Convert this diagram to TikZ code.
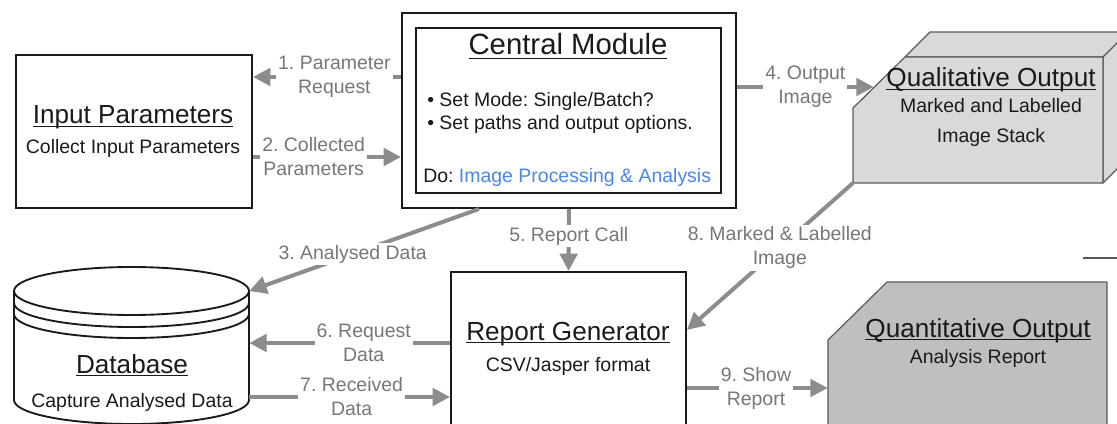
\documentclass[tikz,border=0pt]{standalone}
\usepackage{fontspec}
\setmainfont{Liberation Sans}
\usetikzlibrary{arrows.meta,fit,calc}
\definecolor{arr}{HTML}{8C8C8C}
\definecolor{lbl}{HTML}{777777}
\definecolor{blu}{HTML}{4A86E8}
\definecolor{txt}{HTML}{1A1A1A}
\definecolor{qlf}{HTML}{D9D9D9}
\definecolor{qtf}{HTML}{BFBFBF}
\definecolor{edg}{HTML}{595959}
\newcommand\ulin[2][2.4pt]{\setbox0\hbox{#2}\rlap{\rule[-#1]{\wd0}{1.1pt}}\box0}
\frenchspacing
\begin{document}
\begin{tikzpicture}[x=0.75pt,y=-0.75pt,
  box/.style={draw=txt, line width=1.5pt, inner sep=0pt},
  region/.style={inner sep=0pt},
  title/.style={anchor=base, inner sep=0pt, text=txt, font=\fontsize{19.6}{23}\selectfont},
  sub/.style={anchor=base, inner sep=0pt, text=txt, font=\fontsize{14.6}{17}\selectfont},
  conn/.style={draw=arr, line width=3pt, -{Triangle[length=13pt,width=13pt]}},
  lab/.style={fill=white, text=lbl, font=\fontsize{14.6}{18}\selectfont, align=center, inner sep=1.5pt},
  solid3d/.style={draw=edg, line width=0.9pt, line join=round}]
\useasboundingbox (0,0) rectangle (1117,424);
\clip (0,0) rectangle (1117,424);

% Input Parameters
\node[box, fit={(16,55) (252,208)}] (inp) {};
\node[title] (inpt) at (133,124) {\ulin{Input Parameters}};
\node[sub] (inps) at (133,154) {Collect Input Parameters};

% Central Module
\node[box, fit={(402,13) (736,208)}] (cm) {};
\node[box, fit={(416,28) (721,193)}] (cmi) {};
\node[title, font=\fontsize{22}{26}\selectfont] (cmt) at (568,55) {\ulin[3pt]{Central Module}};
\node[sub, anchor=base west] (b1) at (427,107) {\textbullet\ Set Mode: Single/Batch?};
\node[sub, anchor=base west] (b2) at (427,130) {\textbullet\ Set paths and output options.};
\node[sub, anchor=base west] (do) at (423,183) {Do: \textcolor{blu}{Image Processing \& Analysis}};

% Qualitative Output (3D box)
\draw[solid3d, fill=qlf] (905,57) -- (930,32) -- (1130,32) -- (1103,57) -- cycle;
\draw[solid3d, fill=qlf] (1103,57) -- (1130,30) -- (1130,156) -- (1103,183) -- cycle;
\draw[solid3d, fill=qlf] (853,108) -- (905,57) -- (1103,57) -- (1103,183) -- (853,183) -- cycle;
\node[region, fit={(853,57) (1103,183)}] (ql) {};
\node[title] (qlt) at (991,87) {\ulin{Qualitative Output}};
\node[sub] (qls1) at (991,113) {Marked and Labelled};
\node[sub] (qls2) at (991,143) {Image Stack};

% stray line at right
\draw[edg, line width=1.1pt] (1083,258) -- (1117,258);

% Quantitative Output
\draw[solid3d, fill=qtf] (828,340) -- (887,282) -- (1107,282) -- (1107,440) -- (828,440) -- cycle;
\node[region, fit={(828,282) (1107,440)}] (qt) {};
\node[title] (qtt) at (978,337) {\ulin{Quantitative Output}};
\node[sub] (qts) at (978,363) {Analysis Report};

% Report Generator
\node[box, fit={(451,272) (686,440)}] (rg) {};
\node[title] (rgt) at (568,340) {\ulin{Report Generator}};
\node[sub] (rgs) at (568,371) {CSV/Jasper format};

% Database cylinder
\draw[line width=1.4pt, draw=txt, fill=white] (14,291) -- (14,400)
  arc[start angle=180, end angle=0, x radius=117.5, y radius=24] -- (249,291);
\draw[line width=1.4pt, draw=txt, fill=white] (131.5,291) ellipse [x radius=117.5, y radius=24];
\draw[line width=1.4pt, draw=txt] (14,303) arc[start angle=180, end angle=0, x radius=117.5, y radius=24];
\draw[line width=1.4pt, draw=txt] (14,314) arc[start angle=180, end angle=0, x radius=117.5, y radius=24];
\node[region, fit={(14,267) (249,424)}] (db) {};
\node[title] (dbt) at (132,373) {\ulin{Database}};
\node[sub] (dbs) at (132,407) {Capture Analysed Data};

% Connectors
\draw[conn] (cm.west |- 0,77) -- node[lab, pos=0.45] {1. Parameter\\Request} (inp.east |- 0,77);
\draw[conn] (inp.east |- 0,157) -- node[lab, pos=0.41] {2. Collected\\Parameters} (cm.west |- 0,157);
\draw[conn] ($(cm.south west)+(78,0)$) -- node[lab, pos=0.55] {3. Analysed Data} (db.east |- 0,291);
\draw[conn] (cm.east |- 0,87) -- node[lab, pos=0.5] {4. Output\\Image} ($(ql.west |- 0,87)+(21,0)$);
\draw[conn] (cm.south) -- node[lab, pos=0.44] {5. Report Call} (rg.north);
\draw[conn] (rg.west |- 0,343) -- node[lab, pos=0.43] {6. Request\\Data} (db.east |- 0,343);
\draw[conn] (db.east |- 0,397) -- node[lab, pos=0.51] {7. Received\\Data} (rg.west |- 0,397);
\draw[conn] (ql.south west) -- node[lab, pos=0.44] {8. Marked \& Labelled\\Image} (rg.east |- 0,330);
\draw[conn] (rg.east |- 0,388) -- node[lab, pos=0.49] {9. Show\\Report} (qt.west |- 0,388);
\end{tikzpicture}
\end{document}
